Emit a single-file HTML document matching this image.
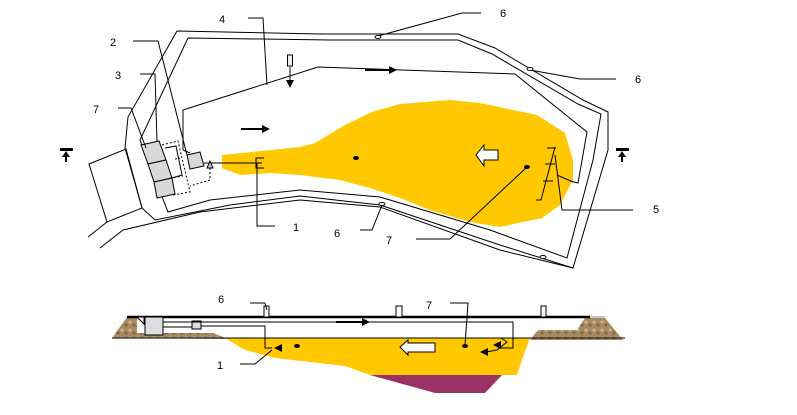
<!DOCTYPE html>
<html><head><meta charset="utf-8"><style>
html,body{margin:0;padding:0;background:#fff;}
svg{display:block;}
text{font-family:"Liberation Sans",sans-serif;font-size:11px;fill:#000;}
</style></head><body>
<svg width="797" height="415" viewBox="0 0 797 415" xmlns="http://www.w3.org/2000/svg">
<defs>
<pattern id="soil" width="8" height="8" patternUnits="userSpaceOnUse">
<rect width="8" height="8" fill="#a88a62"/><circle cx="2" cy="2" r="1.5" fill="#cbb48e"/><circle cx="6" cy="5" r="1.5" fill="#7e6444"/>
</pattern>
</defs>
<g fill="none" stroke="#000" stroke-width="1">
<polyline points="177,31 320,34 458,34 495,48 583,100 608,112 608,150 573,268 500,245 380,205 300,196 230,205 155,220 142,208 125,148 128,117 177,31"/>
<polyline points="188,38 330,40 458,40 492,54 578,104 601,114 593,160 567,258 490,230 380,197 300,190 210,200 168,212 140,140 188,38"/>
<polygon points="89,164 126,149 142,208 107,222"/>
<polyline points="88,237 107,222"/>
<polyline points="100,248 123,230 200,212 300,200 380,207 500,250 573,268"/>
<polyline points="183,150 183,110 318,67 515,74 587,132 578,183 553,177"/>
<line x1="183" y1="150" x2="190" y2="153"/>
</g>
<polygon fill="#ffc800" points="222,155 262,151 300,147 315,143 345,125 372,112 400,104 450,100 480,103 537,115 565,133 573,160 573,180 560,205 542,218 500,227 470,222 430,210 400,198 370,188 340,180 300,175 270,173 240,175 222,168"/>
<g fill="#d8d8d8" stroke="#000">
<polygon points="141,145 159,141 166,160 148,164"/>
<polygon points="148,164 166,160 172,178 154,182"/>
<polygon points="154,182 172,178 175,194 157,198"/>
<polygon points="187,155 200,152 204,166 190,169"/>
</g>
<g fill="none" stroke="#000" stroke-dasharray="2,2">
<polyline points="162,145 178,141 190,192 173,195"/>
<polyline points="175,159 180,158"/>
<polyline points="170,178 183,176"/>
<polyline points="210,168 210,180 190,186"/>
</g>
<g fill="none" stroke="#000">
<polyline points="165,148 176,146 182,175 172,178"/>
<line x1="204" y1="163" x2="262" y2="163"/>
<polyline points="264,158 256,158 256,168 264,168"/>
<polyline points="257,163 257,226 275,226"/>
<polyline points="248,18 263,18 267,85"/>
<polyline points="133,41 158,41 187,155"/>
<polyline points="140,74 155,74 157,142"/>
<polyline points="118,108 131,108 146,148"/>
<polyline points="378,36 462,13 481,13"/>
<polyline points="530,70 580,79 616,79"/>
<polyline points="382,205 372,230 360,230"/>
<polyline points="527,167 450,239 416,239"/>
<polyline points="555,155 562,210 633,210"/>
<polyline points="555,147 541,200 536,200"/>
<line x1="547" y1="148" x2="556" y2="148"/>
<line x1="545" y1="164" x2="555" y2="164"/>
<line x1="543" y1="181" x2="553" y2="181"/>
<line x1="557" y1="175" x2="573" y2="182"/>
</g>
<ellipse cx="378" cy="37" rx="3" ry="1.5" fill="#fff" stroke="#000"/>
<ellipse cx="530" cy="69" rx="3" ry="1.5" fill="#fff" stroke="#000"/>
<ellipse cx="382" cy="204" rx="3" ry="1.5" fill="#fff" stroke="#000"/>
<ellipse cx="543" cy="257" rx="3" ry="1.5" fill="#fff" stroke="#000"/>
<polygon points="207,168 210,161 213,168" fill="#ccd" stroke="#000"/>
<ellipse cx="356" cy="158" rx="3" ry="2" fill="#000"/>
<ellipse cx="527" cy="167" rx="3" ry="2" fill="#000"/>
<g fill="#000" stroke="#000" stroke-width="2">
<line x1="241" y1="129" x2="262" y2="129"/><polygon points="262,125 270,129 262,133" stroke-width="0"/>
<line x1="365" y1="70" x2="390" y2="70"/><polygon points="389,66 397,70 389,74" stroke-width="0"/>
<line x1="290" y1="67" x2="290" y2="80" stroke-width="1"/><polygon points="286,80 290,88 294,80" stroke-width="0"/>
</g>
<rect x="287.5" y="55" width="5" height="11" fill="#eee" stroke="#000"/>
<polygon points="476,155 484,145 484,150 498,150 498,160 484,160 484,166" fill="#fff" stroke="#000"/>
<g fill="#000">
<rect x="60" y="148" width="13" height="3"/><polygon points="62,157 66,151 70,157"/><rect x="65" y="155" width="2" height="7"/>
<rect x="616" y="148" width="13" height="3"/><polygon points="618,157 622,151 626,157"/><rect x="621" y="155" width="2" height="7"/>
</g>
<text x="219" y="23">4</text><text x="500" y="17">6</text>
<text x="110" y="46">2</text><text x="635" y="83">6</text>
<text x="115" y="79">3</text><text x="93" y="113">7</text>
<text x="293" y="231">1</text><text x="334" y="237">6</text>
<text x="386" y="244">7</text><text x="653" y="213">5</text>

<polygon fill="#ffc800" points="225,338 530,338 522,360 517,375 370,375 345,366 275,358 245,350"/>
<polygon fill="#993366" points="370,375 502,375 485,393 435,393"/>
<polygon fill="url(#soil)" points="112,338 127,317 137,317 137,333 213,333 228,339"/>
<polygon fill="url(#soil)" points="530,340 538,330 577,330 577,340"/>
<polygon fill="url(#soil)" points="577,340 577,330 585,318 605,318 623,340"/>
<line x1="112" y1="338" x2="625" y2="338" stroke="#000"/>
<line x1="127" y1="317" x2="590" y2="317" stroke="#000" stroke-width="2.5"/>
<line x1="590" y1="317" x2="605" y2="317" stroke="#888"/>
<g fill="#fff" stroke="#000">
<rect x="264" y="306" width="5" height="11"/><rect x="396" y="306" width="6" height="11"/><rect x="541" y="306" width="5" height="11"/>
</g>
<polygon points="137,317 144,317 144,324" fill="#fff" stroke="#000"/>
<rect x="145" y="317" width="18" height="18" fill="#ddd" stroke="#000"/>
<rect x="192" y="321" width="9" height="8" fill="#ddd" stroke="#000"/>
<g fill="none" stroke="#000">
<polyline points="163,322 513,322 513,348 500,348"/>
<polyline points="163,327 192,327"/><polyline points="201,326 265,326 265,348 272,348"/>
<polyline points="501,338 507,342 497,350 486,352"/>
<polyline points="265,303 250,303"/><line x1="265" y1="303" x2="267" y2="310"/>
<polyline points="450,303 468,303 465,345"/>
<polyline points="240,364 255,364 272,350"/>
</g>
<g fill="#000">
<polygon points="274,348 282,344 282,352"/><polygon points="493,345 501,341 501,349"/><polygon points="480,352 488,348 488,356"/>
<line x1="336" y1="322" x2="362" y2="322" stroke="#000" stroke-width="2"/><polygon points="362,318 370,322 362,326"/>
<ellipse cx="297" cy="346" rx="3" ry="2"/><ellipse cx="465" cy="346" rx="3" ry="2"/>
</g>
<polygon points="400,347 408,340 408,343 435,343 435,352 408,352 408,355" fill="#fff" stroke="#000"/>
<text x="218" y="303">6</text><text x="426" y="309">7</text><text x="217" y="369">1</text>
</svg>
</body></html>
